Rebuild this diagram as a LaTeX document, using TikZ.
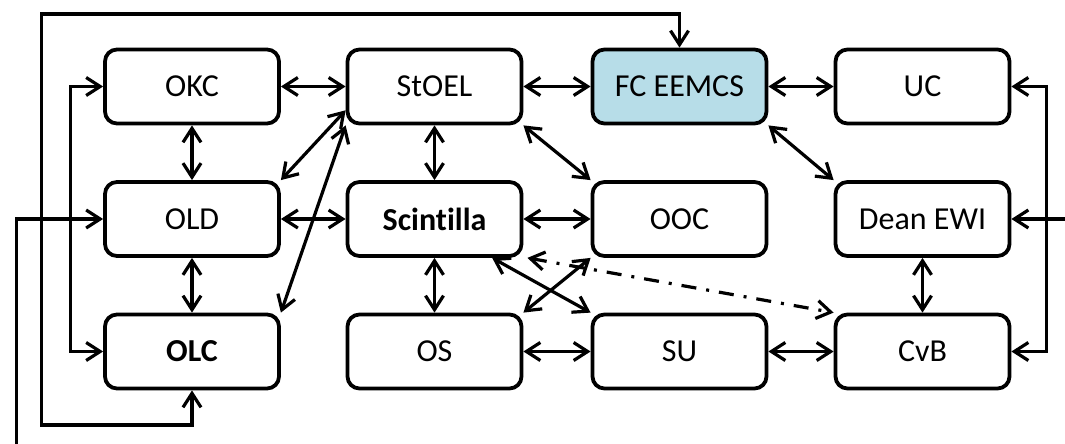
\documentclass[tikz,border=0pt]{standalone}
\usepackage{fontspec}
\setmainfont{Carlito}[Ligatures=NoCommon]
\usetikzlibrary{arrows.meta}
\definecolor{fcblue}{HTML}{B7DDE8}
\begin{document}
\begin{tikzpicture}[x=0.5pt, y=-0.5pt, >={Straight Barb[length=7pt,width=9pt]},
  unit/.style={draw, line width=1.9pt, rounded corners=6pt, minimum width=87pt, minimum height=37pt, inner sep=0pt, font=\fontsize{16}{19}\selectfont},
  link/.style={line width=1.6pt, <->}]
\useasboundingbox (0,0) rectangle (1065,444);
\node[unit] (okc) at (192,86.5) {OKC};
\node[unit] (stoel) at (434.5,86.5) {StOEL};
\node[unit, fill=fcblue] (fc) at (679.5,86.5) {FC EEMCS};
\node[unit] (uc) at (922.5,86.5) {UC};
\node[unit] (old) at (192,219) {OLD};
\node[unit] (scint) at (434.5,219) {\textbf{Scintilla}};
\node[unit] (ooc) at (679.5,219) {OOC};
\node[unit] (dean) at (922.5,219) {Dean EWI};
\node[unit] (olc) at (192,351.5) {\textbf{OLC}};
\node[unit] (os) at (434.5,351.5) {OS};
\node[unit] (su) at (679.5,351.5) {SU};
\node[unit] (cvb) at (922.5,351.5) {CvB};
\draw[link] (okc) -- (stoel);
\draw[link] (stoel) -- (fc);
\draw[link] (fc) -- (uc);
\draw[link] (old) -- (scint);
\draw[link] (scint) -- (ooc);
\draw[link] (os) -- (su);
\draw[link] (su) -- (cvb);
\draw[link] (okc) -- (old);
\draw[link] (old) -- (olc);
\draw[link] (stoel) -- (scint);
\draw[link] (scint) -- (os);
\draw[link] (dean) -- (cvb);
\draw[link] (stoel.195) -- (old.north east);
\draw[link] (stoel.south west) -- (olc.north east);
\draw[link] (stoel.south east) -- (ooc.north west);
\draw[link] (fc.south east) -- (dean.north west);
\draw[link] (scint.-34) -- (su.north west);
\draw[link] (os.north east) -- (ooc.south west);
\draw[link, dash pattern=on 7.5pt off 5pt on 1.5pt off 5pt] ([xshift=2pt]scint.south east) -- (cvb.north west);
\coordinate (topl) at (41.7,14);
\coordinate (botl) at (41.7,425);
\draw[link] (fc.north) |- (topl) -- (botl) -| (olc.south);
\draw[link] (okc.west) -- ++(-33,0) |- (olc.west);
\draw[link] (uc.east) -- ++(35,0) |- (cvb.east);
\coordinate (fromleft) at (16.7,444);
\coordinate (fromright) at (1065,219);
\draw[link, ->] (fromleft) |- (old.west);
\draw[link, ->] (fromright) -- (dean.east);
\end{tikzpicture}
\end{document}
